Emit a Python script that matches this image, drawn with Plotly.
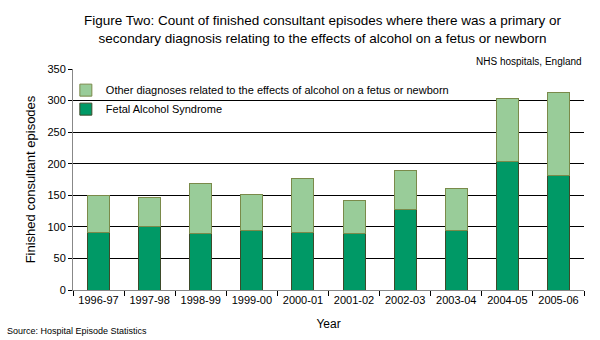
import plotly.graph_objects as go

years = ["1996-97", "1997-98", "1998-99", "1999-00", "2000-01",
         "2001-02", "2002-03", "2003-04", "2004-05", "2005-06"]
fas = [91, 100, 89, 94, 91, 89, 127, 95, 203, 181]
other = [59, 47, 79, 58, 85, 52, 62, 65, 100, 131]
y_ticks = [0, 50, 100, 150, 200, 250, 300, 350]

FONT = "Liberation Sans, Arial, sans-serif"

fig = go.Figure()
fig.add_trace(go.Bar(x=years, y=fas, name="Fetal Alcohol Syndrome",
                     marker=dict(color="#009966", line=dict(color="#3d4a2a", width=1))))
fig.add_trace(go.Bar(x=years, y=other,
                     name="Other diagnoses related to the effects of alcohol on a fetus or newborn",
                     marker=dict(color="#99cc99", line=dict(color="#7a8a4a", width=1))))

fig.update_layout(
    width=600, height=340,
    barmode="stack", bargap=0.57,
    paper_bgcolor="white", plot_bgcolor="white",
    margin=dict(l=73, r=16, t=69, b=50),
    font=dict(family=FONT, size=11, color="#000000"),
    legend=dict(x=-0.014, y=0.97, xanchor="left", yanchor="top",
                bgcolor="rgba(0,0,0,0)", traceorder="reversed",
                font=dict(size=11), itemwidth=30, tracegroupgap=0),
    showlegend=True,
)
fig.update_xaxes(type="category", tickson="boundaries", ticks="outside", ticklen=5,
                 tickcolor="#000000", showline=True, linecolor="#888888", linewidth=1,
                 showgrid=False, tickfont=dict(size=11),
                 title=dict(text="Year", font=dict(size=12), standoff=14))
fig.update_yaxes(range=[0, 350], tickvals=y_ticks, ticks="outside", ticklen=4,
                 tickcolor="#000000", showline=True, linecolor="#888888", linewidth=1,
                 showgrid=True, gridcolor="#000000", gridwidth=1, zeroline=False,
                 tickfont=dict(size=11),
                 title=dict(text="Finished consultant episodes", font=dict(size=13), standoff=8))

fig.add_annotation(text="Figure Two: Count of finished consultant episodes where there was a primary or<br>secondary diagnosis relating to the effects of alcohol on a fetus or newborn",
                   xref="paper", yref="paper", x=0.49, y=1.095, xanchor="center", yanchor="bottom",
                   showarrow=False, font=dict(size=13.5))
fig.add_annotation(text="NHS hospitals, England", xref="paper", yref="paper",
                   x=1.0, y=1.0, xanchor="right", yanchor="bottom", showarrow=False,
                   font=dict(size=10))
fig.add_annotation(text="Source: Hospital Episode Statistics", xref="paper", yref="paper",
                   x=-0.133, y=-0.186, xanchor="left", yanchor="middle", showarrow=False,
                   font=dict(size=9))

fig.write_html("out.html")
